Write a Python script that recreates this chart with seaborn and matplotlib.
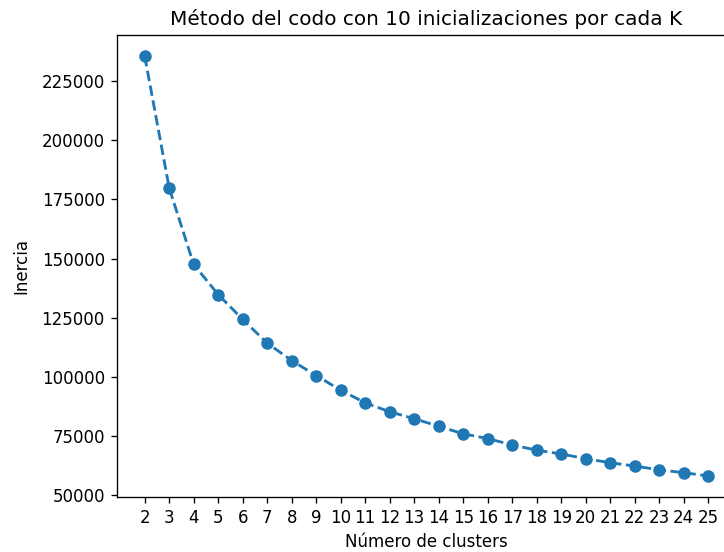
import matplotlib
matplotlib.use("Agg")
import matplotlib.pyplot as plt
import seaborn as sns
import pandas as pd

clusters = list(range(2, 26))
inercia = [235500, 179800, 147500, 134800, 124300, 114300, 106900, 100600,
           94400, 89100, 85300, 82400, 79200, 76000, 74000, 71300, 69100,
           67500, 65500, 63800, 62400, 60800, 59600, 58200]

df = pd.DataFrame({"k": clusters, "inercia": inercia})

fig = plt.figure(figsize=(724 / 120, 552 / 120), dpi=120)
ax = fig.add_axes([116.5 / 724, 55 / 552, 620 / 724, 462 / 552])

sns.lineplot(data=df, x="k", y="inercia", ax=ax, marker="o", linestyle="--",
             color="#1f77b4", markersize=6.5, markeredgecolor="#1f77b4",
             markeredgewidth=1, linewidth=1.7)

ax.set_xticks(clusters)
ax.set_title("Método del codo con 10 inicializaciones por cada K")
ax.set_xlabel("Número de clusters")
ax.set_ylabel("Inercia", labelpad=7)

fig.savefig("out.png", dpi=120)
